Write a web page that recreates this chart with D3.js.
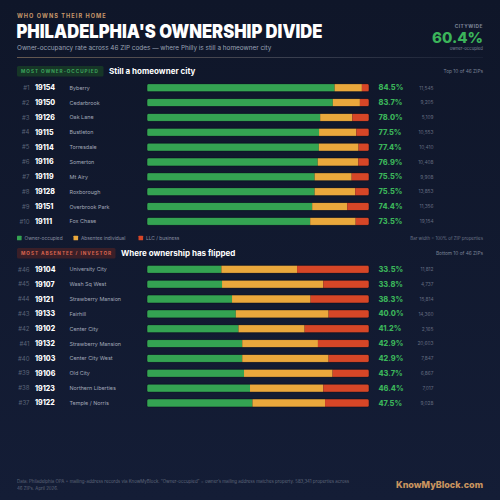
<!DOCTYPE html>
<html lang="en">
  <head>
    <meta charset="UTF-8" />
    <title>Philadelphia's Ownership Divide</title>
    <script src="https://d3js.org/d3.v7.min.js"></script>
    <style>
      body {
        margin: 0;
        padding: 0;
        background-color: #121a2f;
      }
      svg text {
        font-family: Inter, "Noto Sans", Roboto, sans-serif;
      }
    </style>
  </head>
  <body>
    <div id="chart"></div>

    <script>
      // -----------------------------
      // Data
      // -----------------------------
      const topRank = ["#1", "#2", "#3", "#4", "#5", "#6", "#7", "#8", "#9", "#10"];
      const topZip = ["19154", "19150", "19126", "19115", "19114", "19116", "19119", "19128", "19151", "19111"];
      const topName = ["Byberry", "Cedarbrook", "Oak Lane", "Bustleton", "Torresdale", "Somerton", "Mt Airy", "Roxborough", "Overbrook Park", "Fox Chase"];
      const topOwner = [84.5, 83.7, 78.0, 77.5, 77.4, 76.9, 75.5, 75.5, 74.4, 73.5];
      const topAbsentee = [12.3, 12.2, 14.5, 16.8, 17.9, 18.3, 16.7, 18.3, 15.8, 20.5];
      const topLlc = [3.2, 4.1, 7.5, 5.7, 4.7, 4.8, 7.8, 6.2, 9.8, 6.0];
      const topCount = ["11,545", "9,205", "5,109", "10,553", "10,410", "10,408", "9,908", "13,853", "11,356", "19,154"];

      const botRank = ["#46", "#45", "#44", "#43", "#42", "#41", "#40", "#39", "#38", "#37"];
      const botZip = ["19104", "19107", "19121", "19133", "19102", "19132", "19103", "19106", "19123", "19122"];
      const botName = ["University City", "Wash Sq West", "Strawberry Mansion", "Fairhill", "Center City", "Strawberry Mansion", "Center City West", "Old City", "Northern Liberties", "Temple / Norris"];
      const botOwner = [33.5, 33.8, 38.3, 40.0, 41.2, 42.9, 42.9, 43.7, 46.4, 47.5];
      const botAbsentee = [34.1, 45.6, 35.4, 41.8, 29.8, 34.1, 38.9, 39.9, 33.0, 32.7];
      const botLlc = [32.4, 20.6, 26.3, 18.2, 29.0, 23.0, 18.2, 16.4, 20.6, 19.8];
      const botCount = ["11,812", "4,737", "15,814", "14,360", "2,165", "20,603", "7,847", "6,867", "7,017", "9,028"];

      const legendLabels = ["Owner-occupied", "Absentee individual", "LLC / business"];
      const citywide = "60.4%";

      // -----------------------------
      // Setup
      // -----------------------------
      const W = 500, H = 500;
      const colors = { owner: "#34a352", absentee: "#eaa83c", llc: "#d64627" };
      const segColors = [colors.owner, colors.absentee, colors.llc];

      const svg = d3
        .select("#chart")
        .append("svg")
        .attr("width", W)
        .attr("height", H);

      const defs = svg.append("defs");
      const bg = defs.append("linearGradient").attr("id", "bg").attr("x1", 0).attr("y1", 0).attr("x2", 0).attr("y2", 1);
      bg.append("stop").attr("offset", "0%").attr("stop-color", "#0f1629");
      bg.append("stop").attr("offset", "100%").attr("stop-color", "#141d36");
      const rule = defs.append("linearGradient").attr("id", "rule");
      rule.append("stop").attr("offset", "0%").attr("stop-color", "#8a7560");
      rule.append("stop").attr("offset", "60%").attr("stop-color", "#4a4f5e");
      rule.append("stop").attr("offset", "100%").attr("stop-color", "#1c2438");

      svg.append("rect").attr("width", W).attr("height", H).attr("fill", "url(#bg)");

      // x scale for the stacked bars (percent of ZIP properties)
      const x = d3.scaleLinear().domain([0, 100]).range([147, 369]);

      // -----------------------------
      // Header
      // -----------------------------
      svg.append("text").attr("x", 17).attr("y", 17.5)
        .attr("font-size", 5.6).attr("font-weight", 700).attr("letter-spacing", 1.05)
        .attr("fill", "#c8986a").text("WHO OWNS THEIR HOME");

      svg.append("text").attr("x", 16.5).attr("y", 37.5)
        .attr("font-size", 18.5).attr("font-weight", 900)
        .attr("textLength", 306).attr("lengthAdjust", "spacingAndGlyphs")
        .attr("fill", "#ffffff").text("PHILADELPHIA'S OWNERSHIP DIVIDE");

      svg.append("text").attr("x", 17).attr("y", 50)
        .attr("font-size", 6.4).attr("fill", "#9aa2b4")
        .text("Owner-occupancy rate across 46 ZIP codes — where Philly is still a homeowner city");

      svg.append("text").attr("x", 483).attr("y", 27.8).attr("text-anchor", "end")
        .attr("font-size", 4.8).attr("font-weight", 700).attr("letter-spacing", 0.5)
        .attr("fill", "#7d8598").text("CITYWIDE");
      svg.append("text").attr("x", 483).attr("y", 43.2).attr("text-anchor", "end")
        .attr("font-size", 15).attr("font-weight", 800)
        .attr("fill", "#3bb45a").text(citywide);
      svg.append("text").attr("x", 483).attr("y", 50.2).attr("text-anchor", "end")
        .attr("font-size", 4.3).attr("fill", "#7d8598").text("owner-occupied");

      svg.append("rect").attr("x", 17).attr("y", 57).attr("width", 466).attr("height", 0.7)
        .attr("fill", "url(#rule)");

      // -----------------------------
      // Sections
      // -----------------------------
      function section(cfg) {
        const g = svg.append("g");

        // pill label
        g.append("rect").attr("x", 17).attr("y", cfg.pillY).attr("width", cfg.pillW).attr("height", 10.5)
          .attr("rx", 1.5).attr("fill", cfg.pillFill);
        g.append("text").attr("x", 21).attr("y", cfg.pillY + 7.1)
          .attr("font-size", 4.7).attr("font-weight", 700).attr("letter-spacing", 0.95)
          .attr("fill", cfg.pillText).text(cfg.pillLabel);
        g.append("text").attr("x", cfg.pillW + 22.5).attr("y", cfg.pillY + 8)
          .attr("font-size", 8).attr("font-weight", 700)
          .attr("fill", "#ffffff").text(cfg.heading);
        g.append("text").attr("x", 483).attr("y", cfg.pillY + 7.2).attr("text-anchor", "end")
          .attr("font-size", 4.8).attr("fill", "#7a8296").text(cfg.note);

        const idx = d3.range(cfg.zip.length);
        const y = d3.scaleBand().domain(idx).range([cfg.rowTop, cfg.rowTop + 14.85 * idx.length]);
        const bh = 8;

        const rows = g.selectAll("g.row").data(idx).join("g")
          .attr("class", "row")
          .attr("transform", (i) => `translate(0, ${y(i) + y.bandwidth() / 2})`);

        rows.append("text").attr("x", 29.5).attr("y", 2.2).attr("text-anchor", "end")
          .attr("font-size", 6).attr("fill", "#5b6478").text((i) => cfg.rank[i]);
        rows.append("text").attr("x", 35).attr("y", 2.5)
          .attr("font-size", 7).attr("font-weight", 800).attr("fill", "#ffffff").text((i) => cfg.zip[i]);
        rows.append("text").attr("x", 69.5).attr("y", 2)
          .attr("font-size", 5.4).attr("fill", "#a1a8b8").text((i) => cfg.name[i]);

        // stacked bar
        rows.each(function (i) {
          const row = d3.select(this);
          const vals = [cfg.owner[i], cfg.absentee[i], cfg.llc[i]];
          const starts = [0, vals[0], vals[0] + vals[1]];
          const clipId = `clip-${cfg.key}-${i}`;
          row.append("clipPath").attr("id", clipId)
            .append("rect").attr("x", x(0)).attr("y", -bh / 2).attr("width", x(100) - x(0)).attr("height", bh).attr("rx", 1.6);
          const bar = row.append("g").attr("clip-path", `url(#${clipId})`);
          bar.selectAll("rect").data(vals).join("rect")
            .attr("x", (d, k) => x(starts[k]))
            .attr("y", -bh / 2)
            .attr("width", (d) => x(d) - x(0))
            .attr("height", bh)
            .attr("fill", (d, k) => segColors[k]);
          row.append("rect").attr("x", x(0)).attr("y", -bh / 2).attr("width", x(100) - x(0)).attr("height", bh)
            .attr("rx", 1.6).attr("fill", "none").attr("stroke", "#0a0f1c").attr("stroke-opacity", 0.7).attr("stroke-width", 0.7);
        });

        rows.append("text").attr("x", 378.5).attr("y", 2.6)
          .attr("font-size", 7.4).attr("font-weight", 800).attr("fill", "#3bb45a")
          .text((i) => cfg.owner[i].toFixed(1) + "%");
        rows.append("text").attr("x", 433.5).attr("y", 1.8).attr("text-anchor", "end")
          .attr("font-size", 4.8).attr("fill", "#646c80").text((i) => cfg.count[i]);
      }

      section({
        key: "top", pillY: 66, pillW: 86.5, pillFill: "#163627", pillText: "#3ca35c",
        pillLabel: "MOST OWNER-OCCUPIED", heading: "Still a homeowner city", note: "Top 10 of 46 ZIPs",
        rowTop: 80.3, rank: topRank, zip: topZip, name: topName,
        owner: topOwner, absentee: topAbsentee, llc: topLlc, count: topCount
      });

      section({
        key: "bot", pillY: 248, pillW: 98.5, pillFill: "#3a1f28", pillText: "#d9644f",
        pillLabel: "MOST ABSENTEE / INVESTOR", heading: "Where ownership has flipped", note: "Bottom 10 of 46 ZIPs",
        rowTop: 261.9, rank: botRank, zip: botZip, name: botName,
        owner: botOwner, absentee: botAbsentee, llc: botLlc, count: botCount
      });

      // -----------------------------
      // Legend
      // -----------------------------
      const legX = [17, 73.5, 138.5];
      const leg = svg.append("g").selectAll("g").data(legendLabels).join("g")
        .attr("transform", (d, i) => `translate(${legX[i]}, 238)`);
      leg.append("rect").attr("x", 0).attr("y", -2.3).attr("width", 4.6).attr("height", 4.6).attr("rx", 0.6)
        .attr("fill", (d, i) => segColors[i]);
      leg.append("text").attr("x", 7.5).attr("y", 1.8)
        .attr("font-size", 4.8).attr("fill", "#8a91a3").text((d) => d);
      svg.append("text").attr("x", 483).attr("y", 239.6).attr("text-anchor", "end")
        .attr("font-size", 4.4).attr("fill", "#6d7589").text("Bar width = 100% of ZIP properties");

      // -----------------------------
      // Footer
      // -----------------------------
      const foot = svg.append("text").attr("font-size", 4.4).attr("fill", "#5f677b");
      foot.append("tspan").attr("x", 17).attr("y", 482.6)
        .text("Data: Philadelphia OPA + mailing-address records via KnowMyBlock. \u201cOwner-occupied\u201d = owner\u2019s mailing address matches property. 583,341 properties across");
      foot.append("tspan").attr("x", 17).attr("y", 489.8).text("46 ZIPs. April 2026.");

      svg.append("text").attr("x", 483).attr("y", 488.3).attr("text-anchor", "end")
        .attr("font-size", 9).attr("font-weight", 800).attr("fill", "#c9945f").text("KnowMyBlock.com");
    </script>
  </body>
</html>
